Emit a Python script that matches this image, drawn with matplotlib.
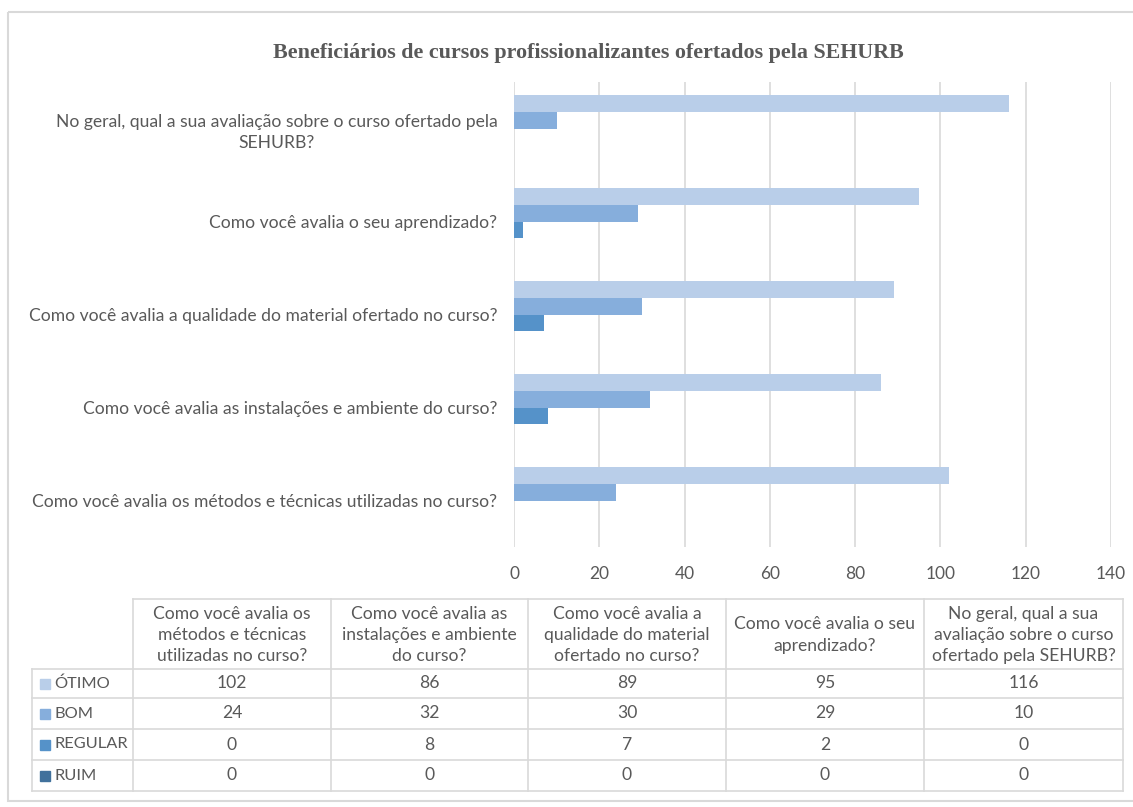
import numpy as np
import matplotlib.pyplot as plt
from matplotlib.patches import Rectangle

# data
categories = ["Como você avalia os métodos e técnicas utilizadas no curso?",
              "Como você avalia as instalações e ambiente do curso?",
              "Como você avalia a qualidade do material ofertado no curso?",
              "Como você avalia o seu aprendizado?",
              "No geral, qual a sua avaliação sobre o curso ofertado pela\nSEHURB?"]
col_headers = ["Como você avalia os\nmétodos e técnicas\nutilizadas no curso?",
               "Como você avalia as\ninstalações e ambiente\ndo curso?",
               "Como você avalia a\nqualidade do material\nofertado no curso?",
               "Como você avalia o seu\naprendizado?",
               "No geral, qual a sua\navaliação sobre o curso\nofertado pela SEHURB?"]
series_names = ["ÓTIMO", "BOM", "REGULAR", "RUIM"]
otimo = [102, 86, 89, 95, 116]
bom = [24, 32, 30, 29, 10]
regular = [0, 8, 7, 2, 0]
ruim = [0, 0, 0, 0, 0]
series = [otimo, bom, regular, ruim]
colors = ["#B9CEE9", "#86AEDC", "#5592C9", "#41719C"]
title = "Beneficiários de cursos profissionalizantes ofertados pela SEHURB"

W, H = 1133, 807
txt = "#595959"
grid = "#D9D9D9"
font = "Lato"
fs = 12.6

fig = plt.figure(figsize=(W / 100, H / 100), dpi=100)

# background canvas in pixel coords
bg = fig.add_axes([0, 0, 1, 1])
bg.set_xlim(0, W)
bg.set_ylim(H, 0)
bg.axis("off")
bg.add_patch(Rectangle((8, 12), W + 10, 789, fill=False, ec=grid, lw=1.5))
bg.text(588, 53, title, ha="center", va="center", fontsize=15.8,
        family="Liberation Serif", weight="bold", color=txt)

# main chart
def px2fig(x0, y0, x1, y1):
    return [x0 / W, 1 - y1 / H, (x1 - x0) / W, (y1 - y0) / H]

ax = fig.add_axes(px2fig(514, 82, 1111, 547))
y = np.arange(len(categories))
h = 0.18
for i, (vals, c) in enumerate(zip(series, colors)):
    ax.barh(y + (1.5 - i) * h, vals, height=h, color=c, zorder=3)
ax.set_xlim(0, 140)
ax.set_ylim(-0.5, 4.5)
ax.set_xticks(range(0, 141, 20))
ax.set_yticks(y)
ax.set_yticklabels(categories, multialignment="center", linespacing=1.4)
ax.grid(axis="x", color=grid, lw=1.2, zorder=0)
for s in ax.spines.values():
    s.set_visible(False)
ax.tick_params(axis="y", length=0, pad=12, labelsize=fs, labelcolor=txt)
ax.tick_params(axis="x", length=0, pad=14, labelsize=12.5, labelcolor=txt)
for lab in ax.get_xticklabels() + ax.get_yticklabels():
    lab.set_family(font)

# data table
col_x = [133, 331, 528, 726, 924, 1123]
row_y = [599, 669, 698, 729, 760, 791]
label_x0 = 32
for j in range(len(col_x)):
    bg.plot([col_x[j]] * 2, [row_y[0], row_y[-1]], color=grid, lw=1.2)
bg.plot([label_x0] * 2, [row_y[1], row_y[-1]], color=grid, lw=1.2)
bg.plot([col_x[0], col_x[-1]], [row_y[0]] * 2, color=grid, lw=1.2)
for r in row_y[1:]:
    bg.plot([label_x0, col_x[-1]], [r, r], color=grid, lw=1.2)

for j, head in enumerate(col_headers):
    cx = (col_x[j] + col_x[j + 1]) / 2
    bg.text(cx, (row_y[0] + row_y[1]) / 2 + 1, head, ha="center", va="center",
            fontsize=fs, family=font, color=txt, linespacing=1.4)

for i, (name, vals, c) in enumerate(zip(series_names, series, colors)):
    cy = (row_y[i + 1] + row_y[i + 2]) / 2
    bg.add_patch(Rectangle((40, cy - 5), 10, 10, color=c))
    bg.text(54, cy, name, ha="left", va="center", fontsize=11.8, family=font, color=txt)
    for j, v in enumerate(vals):
        cx = (col_x[j] + col_x[j + 1]) / 2
        bg.text(cx, cy, str(v), ha="center", va="center", fontsize=fs,
                family=font, color=txt)

fig.savefig("out.png", dpi=100)
